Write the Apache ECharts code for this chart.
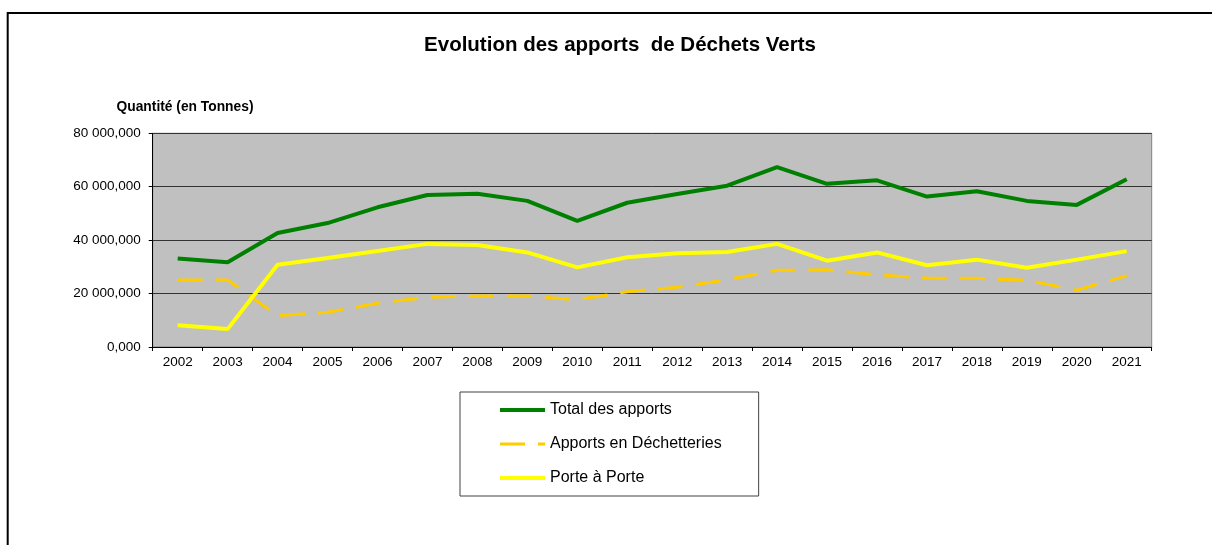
<!DOCTYPE html>
<html>
<head>
<meta charset="utf-8">
<script src="https://cdn.jsdelivr.net/npm/echarts@6/dist/echarts.min.js"></script>
<style>
  html, body { margin: 0; padding: 0; background: #fff; }
  #chart { width: 1212px; height: 545px; }
</style>
</head>
<body>
<div id="chart"></div>
<script>
(function() {
  var years = ['2002', '2003', '2004', '2005', '2006', '2007', '2008', '2009', '2010', '2011',
               '2012', '2013', '2014', '2015', '2016', '2017', '2018', '2019', '2020', '2021'];
  var totalApports = [33100, 31700, 42700, 46400, 52300, 56900, 57400, 54700, 47200, 54000,
                      57300, 60400, 67300, 61100, 62400, 56300, 58300, 54700, 53200, 62800];
  var apportsDechetteries = [25100, 25100, 11700, 13000, 16400, 18600, 19100, 19100, 17700, 20700,
                             22400, 25200, 28700, 28900, 27000, 25800, 25700, 25000, 21300, 26700];
  var porteAPorte = [8100, 6700, 30800, 33300, 35900, 38600, 38200, 35400, 29800, 33600,
                     35100, 35600, 38600, 32300, 35400, 30600, 32700, 29700, 32700, 35900];

  var font = 'Arial, "Liberation Sans", sans-serif';
  var green = '#008000', orange = '#FFCC00', yellow = '#FFFF00';
  var dash = [25, 13];
  var noSymbol = { color: 'rgba(0,0,0,0)', borderWidth: 0, opacity: 0 };

  // 80 000,000 style labels
  function fmt(v) {
    var s = String(Math.round(v)).replace(/\B(?=(\d{3})+(?!\d))/g, ' ');
    return s + ',000';
  }

  var chart = echarts.init(document.getElementById('chart'), null, { renderer: 'canvas' });
  chart.setOption({
    animation: false,
    backgroundColor: '#ffffff',
    textStyle: { fontFamily: font },
    graphic: [{
      type: 'rect',
      silent: true,
      shape: { x: 7.7, y: 13, width: 1400, height: 800 },
      style: { fill: 'none', stroke: '#000', lineWidth: 2 }
    }],
    title: [{
      text: 'Evolution des apports  de Déchets Verts',
      left: 620,
      top: 35,
      textAlign: 'center',
      padding: 0,
      textStyle: { fontFamily: font, fontSize: 20.5, fontWeight: 'bold', color: '#000' }
    }, {
      text: 'Quantité (en Tonnes)',
      left: 185,
      top: 100,
      textAlign: 'center',
      padding: 0,
      textStyle: { fontFamily: font, fontSize: 13.8, fontWeight: 'bold', color: '#000' }
    }],
    legend: {
      orient: 'vertical',
      left: 460,
      top: 392,
      padding: [10, 37, 10, 38],
      borderColor: '#404040',
      borderWidth: 1,
      itemWidth: 45,
      itemHeight: 14,
      itemGap: 18,
      textStyle: { fontFamily: font, fontSize: 16, color: '#000', lineHeight: 14 },
      data: [
        { name: 'Total des apports', lineStyle: { width: 4, color: green }, itemStyle: noSymbol },
        { name: 'Apports en Déchetteries', lineStyle: { width: 3, color: orange, type: dash }, itemStyle: noSymbol },
        { name: 'Porte à Porte', lineStyle: { width: 4, color: yellow }, itemStyle: noSymbol }
      ]
    },
    grid: {
      left: 152.7, right: 60.3, top: 133.3, bottom: 198,
      show: true,
      backgroundColor: '#C0C0C0',
      borderColor: '#808080',
      borderWidth: 1
    },
    xAxis: {
      type: 'category',
      data: years,
      boundaryGap: true,
      axisLine: { lineStyle: { color: '#000', width: 1 } },
      axisTick: { show: true, length: 4, lineStyle: { color: '#000' } },
      axisLabel: { color: '#000', fontSize: 13.5, margin: 8, fontFamily: font }
    },
    yAxis: {
      type: 'value',
      min: 0,
      max: 80000,
      interval: 20000,
      axisLine: { show: true, lineStyle: { color: '#000', width: 1 } },
      axisTick: { show: true, length: 4, lineStyle: { color: '#000' } },
      axisLabel: { color: '#000', fontSize: 13.5, margin: 12, fontFamily: font, formatter: fmt },
      splitLine: { lineStyle: { color: '#333', width: 1 } }
    },
    series: [{
      name: 'Total des apports',
      type: 'line',
      data: totalApports,
      symbol: 'none',
      lineStyle: { color: green, width: 4 },
      itemStyle: { color: green }
    }, {
      name: 'Apports en Déchetteries',
      type: 'line',
      data: apportsDechetteries,
      symbol: 'none',
      lineStyle: { color: orange, width: 3, type: dash },
      itemStyle: { color: orange }
    }, {
      name: 'Porte à Porte',
      type: 'line',
      data: porteAPorte,
      symbol: 'none',
      lineStyle: { color: yellow, width: 4 },
      itemStyle: { color: yellow }
    }]
  });
  window.addEventListener('resize', function() { chart.resize(); });
})();
</script>
</body>
</html>
